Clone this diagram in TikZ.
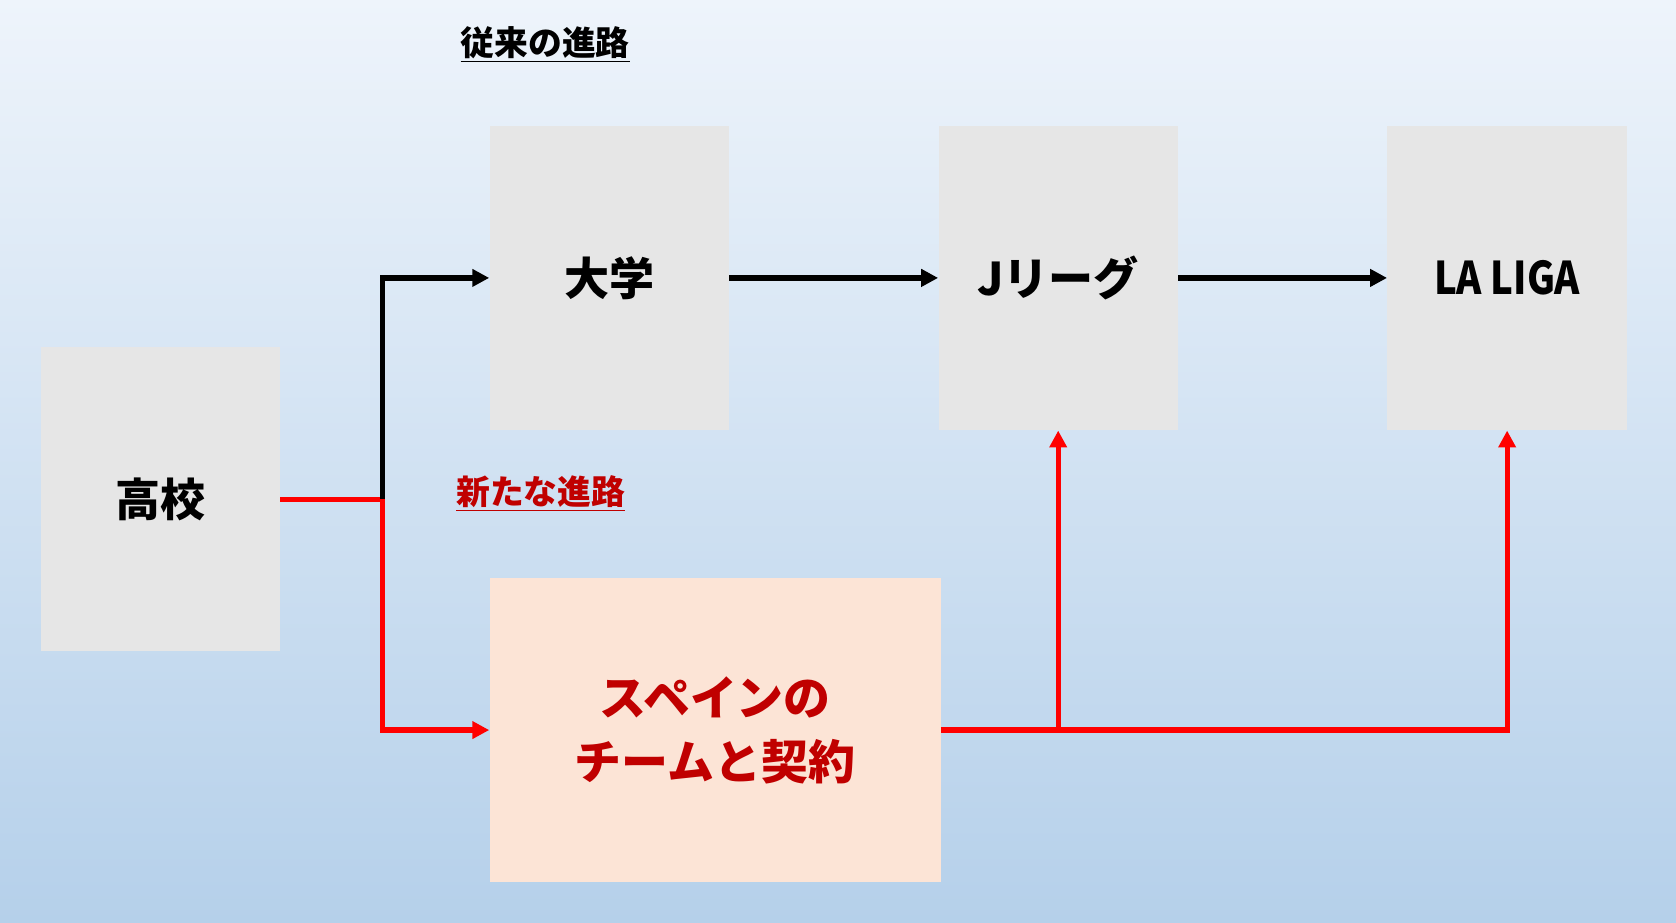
\documentclass[tikz,border=0pt]{standalone}
\usepackage{fontspec}
\setmainfont{Noto Sans CJK JP}
\usetikzlibrary{arrows.meta}
\definecolor{boxgray}{HTML}{E6E6E6}
\definecolor{spainfill}{HTML}{FCE4D6}
\definecolor{darkred}{HTML}{C00000}
\definecolor{bgtop}{HTML}{EEF4FB}
\definecolor{bgbot}{HTML}{B5D0EA}
\tikzset{
  stage/.style={fill=boxgray, minimum width=4.48cm, minimum height=5.7cm, font=\bfseries\fontsize{24}{28}\selectfont},
  path/.style={line width=2.8pt, -{Triangle[length=9pt,width=9pt]}},
  title/.style={font=\bfseries\fontsize{18}{21}\selectfont}
}
\begin{document}
\begin{tikzpicture}[x=0.02cm, y=-0.02cm]
  \shade[top color=bgtop, bottom color=bgbot] (0,0) rectangle (1568,863);
  \useasboundingbox (0,0) rectangle (1568,863);

  \node[stage] (koko) at (150,467) {高校};
  \node[stage] (daigaku) at (570,260) {大学};
  \node[stage] (jleague) at (990,260) {Jリーグ};
  \node[stage] (laliga) at (1410,260) {\scalebox{0.85}[1]{LA LIGA}};
  \node[stage, fill=spainfill, minimum width=8.44cm, text=darkred, align=center,
        font=\bfseries\fontsize{25}{34}\selectfont] (spain) at (669,683) {スペインの\\チームと契約};

  \node[title] (old) at (510,42) {\underline{従来の進路}};
  \node[title, text=darkred] (new) at (506,462) {\underline{新たな進路}};

  \coordinate (split) at (358,467);
  \draw[line width=2.8pt, red] (koko.east |- split) -- (split);
  \draw[path] (split) |- (daigaku.west);
  \draw[path, red] (split) |- (spain.west);
  \draw[path] (daigaku) -- (jleague);
  \draw[path] (jleague) -- (laliga);
  \draw[path, red] (spain.east) -| (laliga.south);
  \draw[path, red] (spain.east -| jleague.south) -- (jleague.south);
\end{tikzpicture}
\end{document}
